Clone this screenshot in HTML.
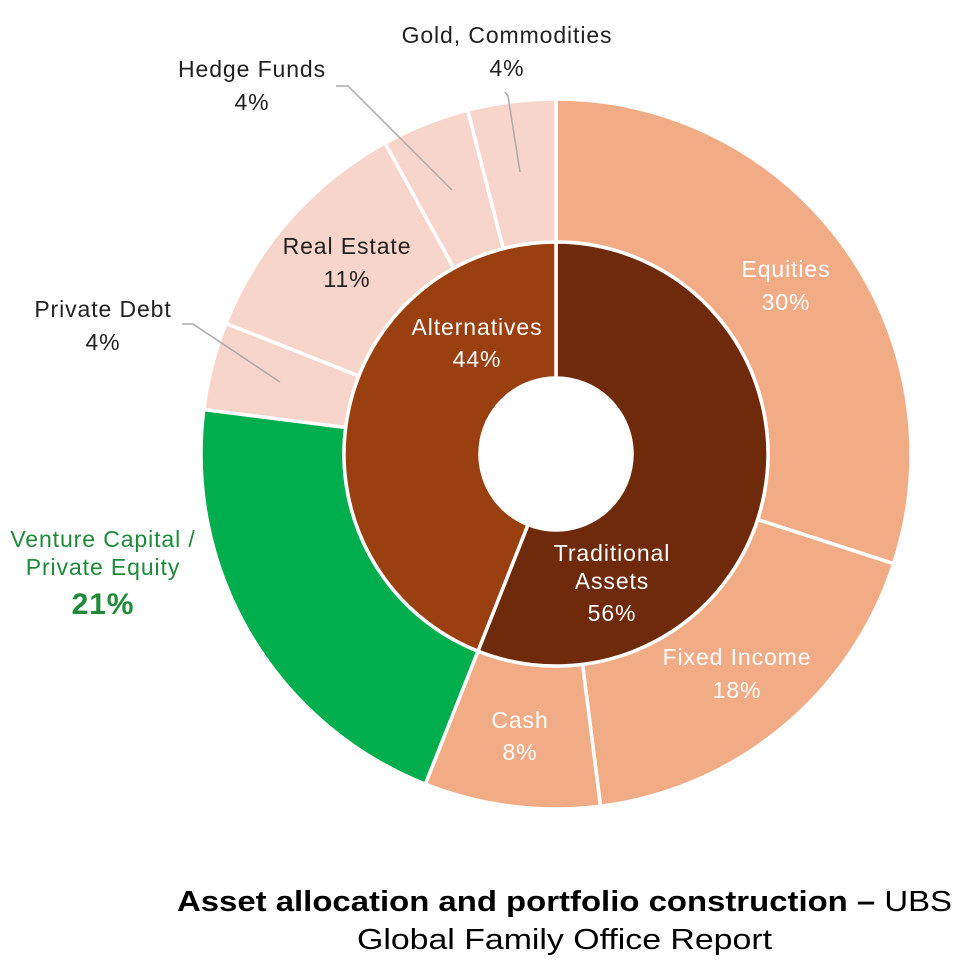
<!DOCTYPE html>
<html><head><meta charset="utf-8"><style>
html,body{margin:0;padding:0;background:#fff;}
svg{display:block;font-family:"Liberation Sans",sans-serif;}
</style></head><body>
<svg id="s" width="976" height="964" viewBox="0 0 976 964" xmlns="http://www.w3.org/2000/svg">
<g id="arcs"></g>
<circle cx="556" cy="454" r="76" fill="#fff"/>
<g stroke="#aaa" stroke-width="1.5" fill="none">
<polyline points="505,92 508,96 520,172"/>
<polyline points="336,86 348,86 452,190"/>
<polyline points="182,324 193,324 280,382"/>
</g>
<g font-size="23" letter-spacing="0.9" text-anchor="middle" fill="#222">
<text x="507" y="43">Gold, Commodities</text>
<text x="507" y="76">4%</text>
<text x="252" y="77">Hedge Funds</text>
<text x="252" y="110">4%</text>
<text x="103" y="317">Private Debt</text>
<text x="103" y="350">4%</text>
<text x="347" y="254">Real Estate</text>
<text x="347" y="287">11%</text>
</g>
<g font-size="23" letter-spacing="0.9" text-anchor="middle" fill="#fff">
<text x="786" y="277">Equities</text>
<text x="786" y="310">30%</text>
<text x="737" y="665">Fixed Income</text>
<text x="737" y="698">18%</text>
<text x="520" y="728">Cash</text>
<text x="520" y="760">8%</text>
<text x="477" y="335">Alternatives</text>
<text x="477" y="367">44%</text>
<text x="612" y="561">Traditional</text>
<text x="612" y="589">Assets</text>
<text x="612" y="621">56%</text>
</g>
<g text-anchor="middle" fill="#1e8a3a" letter-spacing="0.9">
<text x="103" y="547" font-size="23">Venture Capital /</text>
<text x="103" y="575" font-size="23">Private Equity</text>
<text x="103" y="614" font-size="30" font-weight="bold">21%</text>
</g>
<text x="177" y="911" font-size="29" textLength="775" lengthAdjust="spacingAndGlyphs" fill="#000"><tspan font-weight="bold">Asset allocation and portfolio construction –</tspan> UBS</text>
<text x="357" y="949" font-size="29" textLength="415" lengthAdjust="spacingAndGlyphs" fill="#000">Global Family Office Report</text>
</svg>
<script>
var cx=556,cy=454;
function pt(r,a){a=a*Math.PI/180;return [cx+r*Math.sin(a),cy-r*Math.cos(a)];}
function seg(r0,r1,a0,a1,col){
 var p1=pt(r1,a0),p2=pt(r1,a1),p3=pt(r0,a1),p4=pt(r0,a0),l=(a1-a0)>180?1:0;
 return '<path d="M'+p1+' A'+r1+','+r1+' 0 '+l+' 1 '+p2+' L'+p3+' A'+r0+','+r0+' 0 '+l+' 0 '+p4+'Z" fill="'+col+'" stroke="#fff" stroke-width="3.5"/>';
}
var outer=[[30,'#F2AC85'],[18,'#F2AC85'],[8,'#F2AC85'],[21,'#00AE4D'],[4,'#F8D5CB'],[11,'#F8D5CB'],[4,'#F8D5CB'],[4,'#F8D5CB']];
var h='',a=0;
outer.forEach(function(o){var b=a+o[0]*3.6;h+=seg(212,355,a,b,o[1]);a=b;});
h+=seg(76,212,0,201.6,'#6E2A0A');
h+=seg(76,212,201.6,360,'#9A3F10');
document.getElementById('arcs').innerHTML=h;
</script>
</body></html>
